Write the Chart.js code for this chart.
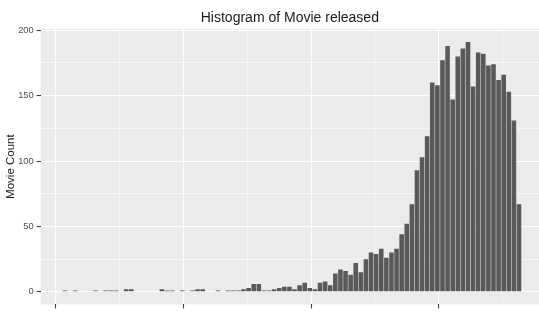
<!DOCTYPE html>
<html>
<head>
<meta charset="utf-8">
<title>Histogram of Movie released</title>
<script src="https://cdn.jsdelivr.net/npm/chart.js@4/dist/chart.umd.min.js"></script>
<style>
    html, body { margin: 0; padding: 0; background: #ffffff; }
    #chartWrap { width: 539px; height: 313px; }
</style>
</head>
<body>
<div id="chartWrap"><canvas id="movieHistogram" width="539" height="313"></canvas></div>
<script>
// Release years (one bin per year) and number of movies in each bin
const releaseYears = [
    1927, 1928, 1929, 1930, 1931, 1932, 1933, 1934, 1935, 1936,
    1937, 1938, 1939, 1940, 1941, 1942, 1943, 1944, 1945, 1946,
    1947, 1948, 1949, 1950, 1951, 1952, 1953, 1954, 1955, 1956,
    1957, 1958, 1959, 1960, 1961, 1962, 1963, 1964, 1965, 1966,
    1967, 1968, 1969, 1970, 1971, 1972, 1973, 1974, 1975, 1976,
    1977, 1978, 1979, 1980, 1981, 1982, 1983, 1984, 1985, 1986,
    1987, 1988, 1989, 1990, 1991, 1992, 1993, 1994, 1995, 1996,
    1997, 1998, 1999, 2000, 2001, 2002, 2003, 2004, 2005, 2006,
    2007, 2008, 2009, 2010, 2011, 2012, 2013, 2014, 2015, 2016
];
const movieCounts = [
    1, 0, 1, 0, 0, 0, 1, 0, 1, 1,
    1, 0, 2, 2, 0, 0, 0, 0, 0, 2,
    1, 1, 0, 1, 0, 1, 2, 2, 0, 0,
    1, 0, 1, 1, 1, 2, 3, 6, 6, 1,
    1, 2, 3, 4, 4, 2, 5, 7, 3, 2,
    7, 8, 5, 14, 17, 16, 13, 22, 15, 25,
    30, 29, 33, 26, 30, 33, 44, 52, 67, 93,
    103, 119, 160, 158, 177, 188, 147, 180, 186, 191,
    157, 183, 182, 173, 174, 162, 166, 153, 131, 67
];

// Axis breaks (ggplot style: labelled majors + unlabelled minors)
const yTicks = [0, 25, 50, 75, 100, 125, 150, 175, 200];
const yLabelledTicks = [0, 50, 100, 150, 200];
const xMajorTicks = [1925, 1950, 1975, 2000];
const xMinorTicks = [1937.5, 1962.5, 1987.5, 2012.5];

const PANEL_BG = '#EBEBEB';
const BAR_FILL = '#595959';
const TICK_MARK = '#333333';

document.addEventListener('DOMContentLoaded', function() {
    drawHistogram();
});

/**
 * Paint the grey panel behind grid lines and the title above it
 */
const panelPlugin = {
    id: 'panelPlugin',
    beforeDraw(chart) {
        const { ctx, chartArea, width, height } = chart;
        ctx.save();
        ctx.fillStyle = '#ffffff';
        ctx.fillRect(0, 0, width, height);
        ctx.fillStyle = PANEL_BG;
        ctx.fillRect(chartArea.left, chartArea.top,
            chartArea.right - chartArea.left, chartArea.bottom - chartArea.top);
        ctx.restore();
    },
    afterDraw(chart) {
        const { ctx, chartArea } = chart;
        ctx.save();
        ctx.fillStyle = '#1a1a1a';
        ctx.font = '14px "Liberation Sans", Arial, sans-serif';
        ctx.textAlign = 'center';
        ctx.textBaseline = 'alphabetic';
        ctx.fillText('Histogram of Movie released', (chartArea.left + chartArea.right) / 2, 22);
        ctx.restore();
    }
};

function isMajorX(value) {
    return xMajorTicks.includes(value);
}

function isLabelledY(value) {
    return yLabelledTicks.includes(value);
}

/**
 * Build the histogram
 */
function drawHistogram() {
    const canvas = document.getElementById('movieHistogram');

    // bins sit a little left of the year value, as in the source plot
    const points = releaseYears.map((year, i) => ({ x: year - 0.25, y: movieCounts[i] }));

    new Chart(canvas, {
        type: 'bar',
        data: {
            datasets: [{
                label: 'Movie Count',
                data: points,
                backgroundColor: BAR_FILL,
                borderWidth: 0,
                barPercentage: 0.9,
                categoryPercentage: 1.0
            }]
        },
        options: {
            responsive: false,
            animation: false,
            layout: {
                padding: { top: 28.8, left: 0, right: 0, bottom: 0 }
            },
            plugins: {
                legend: { display: false },
                title: { display: false },
                tooltip: { enabled: false }
            },
            scales: {
                x: {
                    type: 'linear',
                    min: 1922.0,
                    max: 2019.67,
                    offset: false,
                    border: { display: false },
                    afterBuildTicks: scale => {
                        scale.ticks = xMajorTicks.concat(xMinorTicks)
                            .sort((a, b) => a - b)
                            .map(v => ({ value: v }));
                    },
                    afterFit: scale => { scale.height = 2.7; },
                    ticks: { display: false },
                    grid: {
                        offset: false,
                        drawTicks: true,
                        tickLength: 4,
                        color: '#ffffff',
                        lineWidth: ctx => isMajorX(ctx.tick.value) ? 1.1 : 0.55,
                        tickColor: ctx => isMajorX(ctx.tick.value) ? TICK_MARK : 'rgba(0,0,0,0)',
                        tickWidth: 1
                    }
                },
                y: {
                    type: 'linear',
                    min: -9.6,
                    max: 201.1,
                    border: { display: false },
                    afterBuildTicks: scale => {
                        scale.ticks = yTicks.map(v => ({ value: v }));
                    },
                    afterFit: scale => { scale.width = 40.7; },
                    ticks: {
                        color: '#4d4d4d',
                        font: { family: '"Liberation Sans", Arial, sans-serif', size: 9.3 },
                        padding: 3,
                        callback: value => isLabelledY(value) ? value : ''
                    },
                    grid: {
                        drawTicks: true,
                        tickLength: 4,
                        color: '#ffffff',
                        lineWidth: ctx => isLabelledY(ctx.tick.value) ? 1.1 : 0.55,
                        tickColor: ctx => isLabelledY(ctx.tick.value) ? TICK_MARK : 'rgba(0,0,0,0)',
                        tickWidth: 1
                    },
                    title: {
                        display: true,
                        text: 'Movie Count',
                        color: '#1a1a1a',
                        font: { family: '"Liberation Sans", Arial, sans-serif', size: 11.5 },
                        padding: { top: 3.9, bottom: 0 }
                    }
                }
            }
        },
        plugins: [panelPlugin]
    });
}
</script>
</body>
</html>
